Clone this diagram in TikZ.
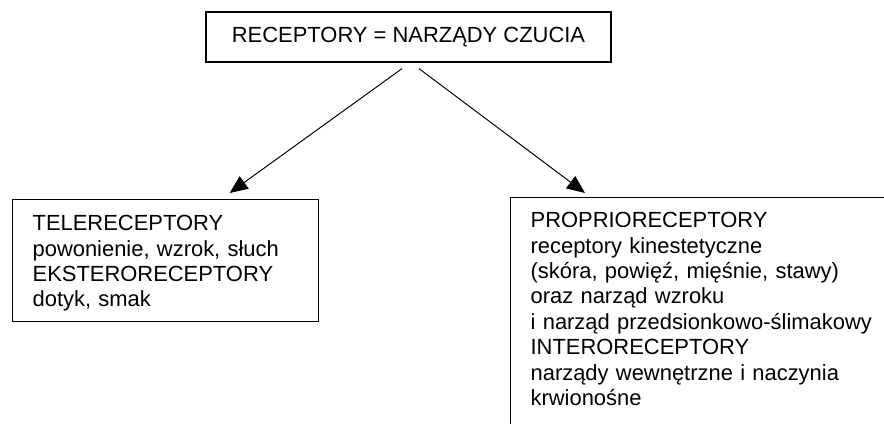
\documentclass[tikz,border=0pt]{standalone}
\usepackage{fontspec}
\setmainfont{Liberation Sans}
\usetikzlibrary{arrows.meta}

\tikzset{
  ramka/.style={draw=black, line width=0.9pt, font=\fontsize{15.6}{18.1}\selectfont},
  tekst/.style={ramka, anchor=north west, inner xsep=0.5cm, inner ysep=0pt, align=left},
  strzalka/.style={-{Triangle[length=0.45cm, width=0.38cm]}, line width=0.7pt}
}

\begin{document}
\begin{tikzpicture}

      %obszar
      \clip (0,0) rectangle (22.1,10.6);

      %ramka u gory
      \node[ramka, minimum width=10.125cm, minimum height=1.25cm] (receptory) at (10.2125,9.675) {RECEPTORY = NARZĄDY CZUCIA};

      %ramka lewa
      \node[tekst, text width=6.65cm] (tele) at (0.3,5.625)
        {\rule{0pt}{0.775cm}TELERECEPTORY\\ powonienie, wzrok, słuch\\ EKSTERORECEPTORY\\ dotyk, smak\rule[-0.3625cm]{0pt}{0.3625cm}};

      %ramka prawa (ucieta)
      \node[tekst, text width=10cm] (proprio) at (12.75,5.675)
        {\rule{0pt}{0.75cm}PROPRIORECEPTORY\\ receptory kinestetyczne\\ (skóra, powięź, mięśnie, stawy)\\ oraz narząd wzroku\\ i narząd przedsionkowo-ślimakowy\\ INTERORECEPTORY\\ narządy wewnętrzne i naczynia\\ krwionośne\rule[-3cm]{0pt}{3cm}};

      %strzalki
      \draw[strzalka] ([xshift=-0.1625cm,yshift=-0.15cm]receptory.south) -- ([xshift=1.6cm,yshift=0.15cm]tele.north);
      \draw[strzalka] ([xshift=0.2625cm,yshift=-0.15cm]receptory.south) -- ([xshift=1.875cm,yshift=0.1cm]proprio.north west);

\end{tikzpicture}
\end{document}
